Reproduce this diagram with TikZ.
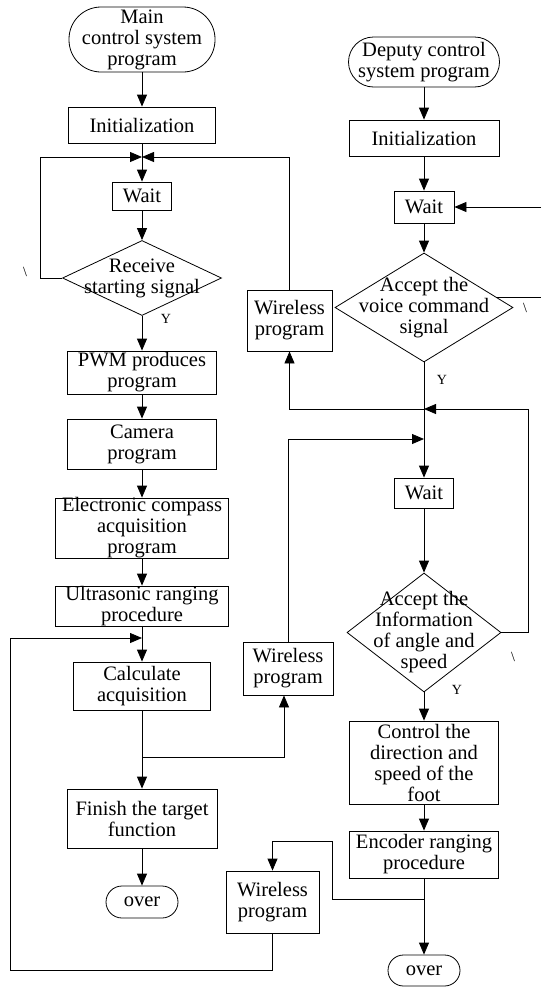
\documentclass[tikz,border=0pt]{standalone}
\usepackage{fontspec}
\setmainfont{Liberation Serif}
\usetikzlibrary{shapes.geometric,arrows.meta}
\begin{document}
\begin{tikzpicture}[x=1pt,y=-1pt,line width=0.8pt,
  font=\fontsize{20.5}{21}\selectfont,
  box/.style 2 args={draw,rectangle,inner sep=0pt,minimum width=#1,minimum height=#2},
  term/.style n args={3}{draw,rectangle,inner sep=0pt,minimum width=#1,minimum height=#2,rounded corners=#3},
  dia/.style 2 args={draw,diamond,inner sep=0pt,minimum width=#1,minimum height=#2},
  txt/.style={align=center,inner sep=0pt},
  arr/.style={-{Triangle[length=12pt,width=10pt]}},
  lab/.style={font=\fontsize{14}{14}\selectfont,inner sep=0pt}]
\useasboundingbox (0,0) rectangle (541,988);

% ---- left column ----
\node[term={146pt}{65pt}{32pt}] (main) at (142,39.5) {};
\node[txt] (mainT) at (main) {Main\\control system\\program};
\node[box={147pt}{36pt}] (init1) at (142,125) {};
\node[txt] (init1T) at (init1) {Initialization};
\node[box={59pt}{28pt}] (wait1) at (142,196) {};
\node[txt] (wait1T) at (wait1) {Wait};
\node[dia={159pt}{75pt}] (dia1) at (142,278) {};
\node[txt] (dia1T) at (dia1) {Receive\\starting signal};
\node[box={149pt}{43pt}] (pwm) at (142,372.5) {};
\node[txt] (pwmT) at (pwm) {PWM produces\\program};
\node[box={149pt}{50pt}] (cam) at (142,444) {};
\node[txt] (camT) at (cam) {Camera\\program};
\node[box={173pt}{60pt}] (ecomp) at (142,528) {};
\node[txt] (ecompT) at (ecomp) {Electronic compass\\acquisition\\program};
\node[box={173pt}{40pt}] (ultra) at (142,606) {};
\node[txt] (ultraT) at (ultra) {Ultrasonic ranging\\procedure};
\node[box={137pt}{48pt}] (calc) at (142,686) {};
\node[txt] (calcT) at (calc) {Calculate\\acquisition};
\node[box={150pt}{59pt}] (finish) at (142,818.5) {};
\node[txt] (finishT) at (finish) {Finish the target\\function};
\node[term={72pt}{32pt}{16pt}] (over1) at (142,902) {};
\node[txt] (over1T) at (over1) {over};

% ---- wireless boxes ----
\node[box={85pt}{61pt}] (wl1) at (289.5,320.5) {};
\node[txt] (wl1T) at (wl1) {Wireless\\program};
\node[box={90pt}{53pt}] (wl2) at (288,668.5) {};
\node[txt] (wl2T) at (wl2) {Wireless\\program};
\node[box={93pt}{62pt}] (wl3) at (272.5,902) {};
\node[txt] (wl3T) at (wl3) {Wireless\\program};

% ---- right column ----
\node[term={151pt}{50pt}{25pt}] (dep) at (424,62) {};
\node[txt] (depT) at (dep) {Deputy control\\system program};
\node[box={150pt}{36pt}] (init2) at (424,138) {};
\node[txt] (init2T) at (init2) {Initialization};
\node[box={60pt}{32pt}] (wait2) at (424,207) {};
\node[txt] (wait2T) at (wait2) {Wait};
\node[dia={178pt}{109pt}] (dia2) at (424,307.5) {};
\node[txt] (dia2T) at (dia2) {Accept the\\voice command\\signal};
\node[box={59pt}{30pt}] (wait3) at (424,493) {};
\node[txt] (wait3T) at (wait3) {Wait};
\node[dia={154pt}{119pt}] (dia3) at (424,632.5) {};
\node[txt] (dia3T) at (dia3) {Accept the\\Information\\of angle and\\speed};
\node[box={149pt}{83pt}] (ctrl) at (424,762.5) {};
\node[txt] (ctrlT) at (ctrl) {Control the\\direction and\\speed of the\\foot};
\node[box={149pt}{47pt}] (enc) at (424,854.5) {};
\node[txt] (encT) at (enc) {Encoder ranging\\procedure};
\node[term={72pt}{31pt}{15.5pt}] (over2) at (424,970.5) {};
\node[txt] (over2T) at (over2) {over};

% ---- small labels ----
\node[lab] (n1) at (25,272) {\textbackslash};
\node[lab] (y1) at (166,319) {Y};
\node[lab] (n2) at (525,308) {\textbackslash};
\node[lab] (y2) at (442,380) {Y};
\node[lab] (n3) at (513,657) {\textbackslash};
\node[lab] (y3) at (457,690) {Y};

% ---- coordinates ----
\coordinate (J1) at (142,157);
\coordinate (L1) at (40,157);
\coordinate (J2) at (142,638);
\coordinate (LB) at (10,970);
\coordinate (J3) at (142,757);
\coordinate (J4) at (424,439);
\coordinate (J5) at (424,409);
\coordinate (R3) at (528,409);
\coordinate (RW) at (541,207);
\coordinate (R2) at (541,297);
\coordinate (J6) at (424,899);
\coordinate (K1) at (332,841);

% ---- connectors: left ----
\draw[arr] (main) -- (init1);
\draw[arr] (init1) -- (wait1);
\draw[arr] (wait1) -- (dia1);
\draw[arr] (dia1.west) -| (L1) -- (J1);
\draw[arr] (wl1.north) |- (J1);
\draw[arr] (dia1) -- (pwm);
\draw[arr] (pwm) -- (cam);
\draw[arr] (cam) -- (ecomp);
\draw[arr] (ecomp) -- (ultra);
\draw[arr] (ultra) -- (calc);
\draw[arr] (wl3.south) |- (LB) |- (J2);
\draw[arr] (calc) -- (finish);
\draw[arr] (J3) -| ([xshift=-4pt]wl2.south);
\draw[arr] (finish) -- (over1);
\draw[arr] (wl2.north) |- (J4);
\draw[arr] (J5) -| (wl1.south);

% ---- connectors: right ----
\draw[arr] (dep) -- (init2);
\draw[arr] (init2) -- (wait2);
\draw[arr] (wait2) -- (dia2);
\draw[arr] (RW) -- (wait2.east);
\draw (dia2.8) -- (dia2.8 -| R2);
\draw[arr] (dia2) -- (wait3);
\draw[arr] (dia3.east) -| (R3) -- (J5);
\draw[arr] (wait3) -- (dia3);
\draw[arr] (dia3) -- (ctrl);
\draw[arr] (ctrl) -- (enc);
\draw[arr] (enc) -- (over2);
\draw[arr] (J6) -| (K1) -| (wl3.north);
\end{tikzpicture}
\end{document}
